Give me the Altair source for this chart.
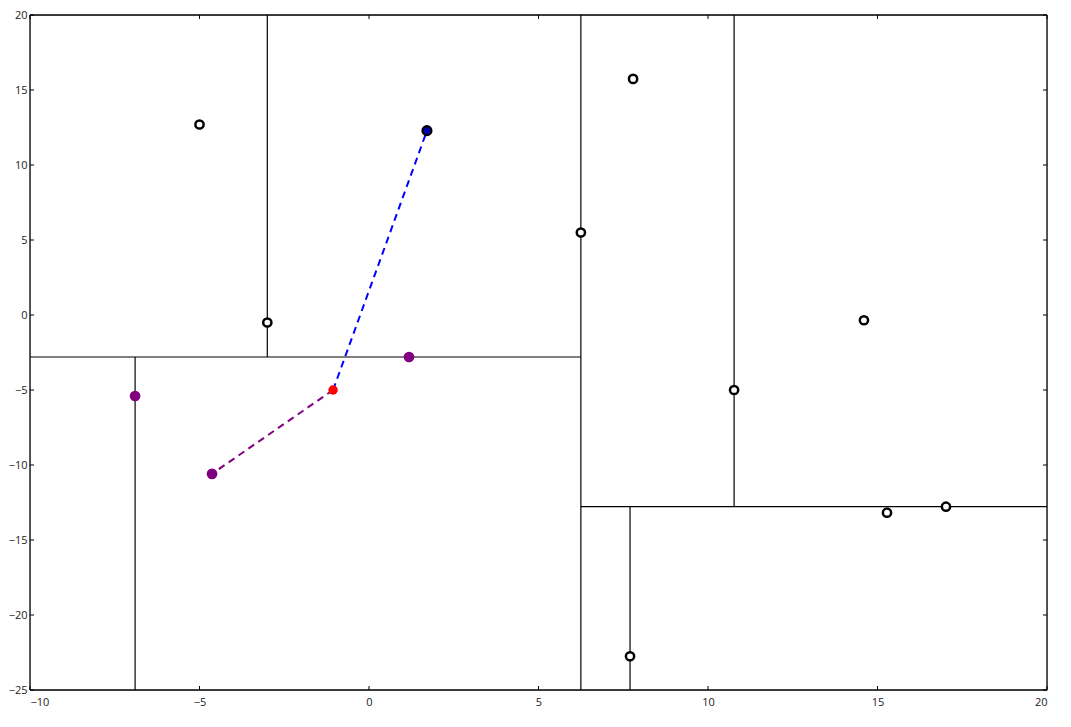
import altair as alt
import pandas as pd

# KD-tree partition segments (x1, y1, x2, y2)
seg_x1 = [6.25, -10.0, -3.0, -6.9, 6.25, 10.77, 7.7]
seg_y1 = [-25.0, -2.8, -2.8, -25.0, -12.78, -12.78, -25.0]
seg_x2 = [6.25, 6.25, -3.0, -6.9, 20.0, 10.77, 7.7]
seg_y2 = [20.0, -2.8, 20.0, -2.8, -12.78, 20.0, -12.78]

# hollow points (data set)
hx = [-5.0, -3.0, 6.25, 7.79, 10.77, 14.6, 15.28, 17.02, 7.7]
hy = [12.7, -0.5, 5.5, 15.74, -5.0, -0.35, -13.18, -12.78, -22.75]

# query point and neighbours
qx, qy = [-1.06], [-5.0]
px = [-6.9, -4.63, 1.18]
py = [-5.4, -10.59, -2.8]
bx, by = [1.71], [12.29]

# dashed links from query point
lx2 = [1.71, -4.63]
ly2 = [12.29, -10.59]
lcol = ["blue", "purple"]

xticks = [-10, -5, 0, 5, 10, 15, 20]
yticks = [-25, -20, -15, -10, -5, 0, 5, 10, 15, 20]

# frame (axes box)
fx1 = [-10, -10, -10, 20]
fy1 = [-25, 20, -25, -25]
fx2 = [20, 20, -10, 20]
fy2 = [-25, 20, 20, 20]

W, H = 1017, 675
xs = alt.Scale(domain=[-10, 20], nice=False, zero=False)
ys = alt.Scale(domain=[-25, 20], nice=False, zero=False)

segs = pd.DataFrame({"x1": seg_x1, "y1": seg_y1, "x2": seg_x2, "y2": seg_y2})
frame = pd.DataFrame({"x1": fx1, "y1": fy1, "x2": fx2, "y2": fy2})
hol = pd.DataFrame({"x": hx, "y": hy})
pur = pd.DataFrame({"x": px, "y": py})
red = pd.DataFrame({"x": qx, "y": qy})
blu = pd.DataFrame({"x": bx, "y": by})
links = pd.DataFrame({"x1": qx * 2, "y1": qy * 2, "x2": lx2, "y2": ly2, "c": lcol})
xt = pd.DataFrame({"v": xticks})
yt = pd.DataFrame({"v": yticks})

xax = alt.Axis(values=xticks, ticks=False, domain=False, grid=False, labelPadding=6,
               labelFontSize=11, labelFont="Open Sans", labelColor="#222", title=None)
yax = alt.Axis(values=yticks, ticks=False, domain=False, grid=False, labelPadding=3,
               labelFontSize=11, labelFont="Open Sans", labelColor="#222", title=None)

part = alt.Chart(segs).mark_rule(color="black", strokeWidth=1.2).encode(
    x=alt.X("x1:Q", scale=xs, axis=xax), y=alt.Y("y1:Q", scale=ys, axis=yax),
    x2="x2:Q", y2="y2:Q")

box = alt.Chart(frame).mark_rule(color="black", strokeWidth=1.3).encode(
    x=alt.X("x1:Q", scale=xs), y=alt.Y("y1:Q", scale=ys), x2="x2:Q", y2="y2:Q")

dash = alt.Chart(links).mark_rule(strokeWidth=2, strokeDash=[7, 5]).encode(
    x=alt.X("x1:Q", scale=xs), y=alt.Y("y1:Q", scale=ys), x2="x2:Q", y2="y2:Q",
    color=alt.Color("c:N", scale=None))

hollow = alt.Chart(hol).mark_point(shape="circle", filled=False, fill="white", fillOpacity=1,
                                   stroke="black", strokeWidth=2.5, size=68, opacity=1).encode(
    x=alt.X("x:Q", scale=xs), y=alt.Y("y:Q", scale=ys))

purple = alt.Chart(pur).mark_circle(color="#800080", size=115, opacity=1).encode(
    x=alt.X("x:Q", scale=xs), y=alt.Y("y:Q", scale=ys))

redp = alt.Chart(red).mark_circle(color="#ff0000", size=90, opacity=1).encode(
    x=alt.X("x:Q", scale=xs), y=alt.Y("y:Q", scale=ys))

bluep = alt.Chart(blu).mark_point(shape="circle", filled=True, fill="#0000aa", stroke="black",
                                  strokeWidth=2.2, size=80, opacity=1).encode(
    x=alt.X("x:Q", scale=xs), y=alt.Y("y:Q", scale=ys))

tl = 4
tick_b = alt.Chart(xt).mark_rule(color="black", strokeWidth=1).encode(
    x=alt.X("v:Q", scale=xs), y=alt.value(H), y2=alt.value(H - tl))
tick_t = alt.Chart(xt).mark_rule(color="black", strokeWidth=1).encode(
    x=alt.X("v:Q", scale=xs), y=alt.value(0), y2=alt.value(tl))
tick_l = alt.Chart(yt).mark_rule(color="black", strokeWidth=1).encode(
    y=alt.Y("v:Q", scale=ys), x=alt.value(0), x2=alt.value(tl))
tick_r = alt.Chart(yt).mark_rule(color="black", strokeWidth=1).encode(
    y=alt.Y("v:Q", scale=ys), x=alt.value(W), x2=alt.value(W - tl))

chart = alt.layer(part, box, tick_b, tick_t, tick_l, tick_r, dash, hollow, purple, redp, bluep).properties(
    width=W, height=H,
    autosize=alt.AutoSizeParams(type="none"),
    padding={"left": 22, "top": 7, "right": 10, "bottom": 30},
).configure_view(stroke=None).configure(background="white")

chart.save("out.html", embed_options={"renderer": "svg", "actions": False})
